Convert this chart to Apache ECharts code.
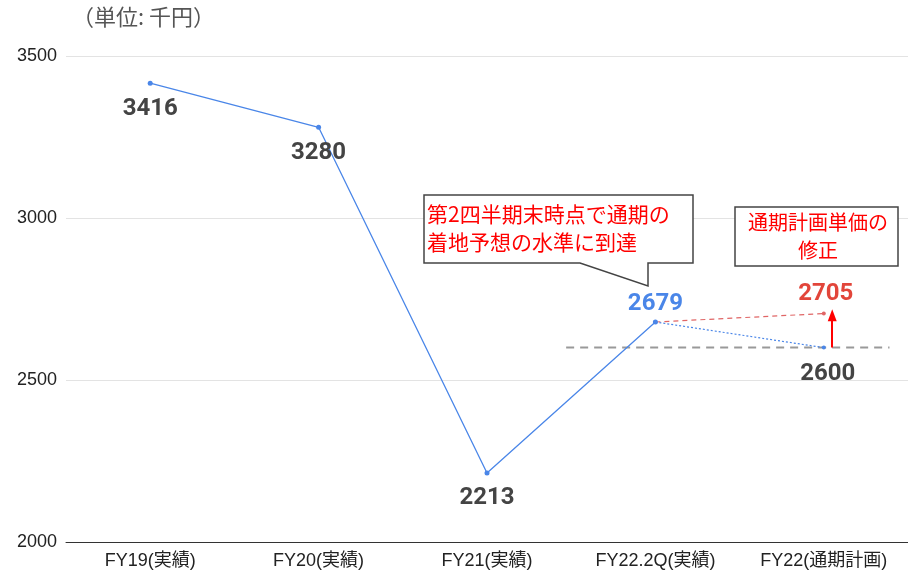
<!DOCTYPE html>
<html>
<head>
<meta charset="utf-8">
<script src="https://cdn.jsdelivr.net/npm/echarts@6/dist/echarts.min.js"></script>
<style>
  html, body { margin: 0; padding: 0; background: #fff; }
  #chart { width: 908px; height: 572px; }
</style>
</head>
<body>
<div id="chart"></div>
<script>
// Unit price per fiscal period (thousand yen)
const categories = ['FY19(実績)', 'FY20(実績)', 'FY21(実績)', 'FY22.2Q(実績)', 'FY22(通期計画)'];
const actualValues = [3416, 3280, 2213, 2679, null];
const initialPlanValues = [null, null, null, 2679, 2600];
const revisedPlanValues = [null, null, null, 2679, 2705];
const planLevel = 2600;
const planLevelSpan = [2.47, 4.39];          // category-index extent of the plan reference line
const revisionArrow = { at: 4.05, from: 2600, to: 2700 };
const yTicks = { min: 2000, max: 3500, step: 500 };

const unitText = '（単位: 千円）';
const callout1 = ['第2四半期末時点で通期の', '着地予想の水準に到達'];
const callout2 = ['通期計画単価の', '修正'];

const NUM_FONT = 'Roboto, "Noto Sans CJK JP", sans-serif';
const AXIS_FONT = '"Liberation Sans", Arial, "Noto Sans CJK JP", sans-serif';
const JP_FONT = '"Noto Sans CJK JP", "Noto Sans", sans-serif';
const BLUE = '#4a86e8';
const RED_SOFT = '#e06666';
const DARK = '#444444';

function valueLabel(pos, color, dist) {
  return { show: true, position: pos, distance: dist, color: color,
           fontFamily: NUM_FONT, fontWeight: 'bold', fontSize: 24 };
}

const actualData = actualValues.map((v, i) => {
  if (v == null) return null;
  if (i === 3) return { value: v, label: valueLabel('top', BLUE, 4) };
  return { value: v, label: valueLabel('bottom', DARK, 11) };
});
const initialData = initialPlanValues.map((v, i) =>
  v == null ? null : (i === 4 ? { value: v, label: { ...valueLabel('bottom', DARK, 12), offset: [4, 0] } } : { value: v }));
const revisedData = revisedPlanValues.map((v, i) =>
  v == null ? null : (i === 4 ? { value: v, label: { ...valueLabel('top', '#e2453a', 6), offset: [2, 0] } } : { value: v }));

const chart = echarts.init(document.getElementById('chart'));

const option = {
  animation: false,
  backgroundColor: '#ffffff',
  grid: { left: 66, right: 0, top: 56, bottom: 30, containLabel: false },
  xAxis: [
    {
      type: 'category',
      data: categories,
      boundaryGap: true,
      axisLine: { lineStyle: { color: '#333', width: 1 } },
      axisTick: { alignWithLabel: true, length: 4, lineStyle: { color: '#999' } },
      axisLabel: { color: '#222', fontSize: 18, fontFamily: AXIS_FONT, margin: 10 }
    },
    { type: 'value', min: -0.5, max: 4.5, show: false }
  ],
  yAxis: {
    type: 'value',
    min: yTicks.min,
    max: yTicks.max,
    interval: yTicks.step,
    axisLine: { show: false },
    axisTick: { show: false },
    splitLine: { lineStyle: { color: '#e3e3e3', width: 1 } },
    axisLabel: { color: '#222', fontSize: 18, fontFamily: AXIS_FONT, margin: 9,
                 formatter: v => String(v) }
  },
  series: [
    {
      name: 'plan-level',
      type: 'line',
      xAxisIndex: 1,
      data: [[planLevelSpan[0], planLevel], [planLevelSpan[1], planLevel]],
      symbol: 'none',
      lineStyle: { color: '#999', width: 2, type: [8, 6] },
      silent: true,
      z: 1
    },
    {
      name: 'initial-plan',
      type: 'line',
      data: initialData,
      symbol: 'circle',
      symbolSize: 4,
      showSymbol: true,
      itemStyle: { color: BLUE },
      lineStyle: { color: BLUE, width: 1.2, type: [2, 2] },
      z: 3
    },
    {
      name: 'revised-plan',
      type: 'line',
      data: revisedData,
      symbol: 'circle',
      symbolSize: 4,
      itemStyle: { color: RED_SOFT },
      lineStyle: { color: RED_SOFT, width: 1.2, type: [5, 4] },
      z: 3
    },
    {
      name: 'actual',
      type: 'line',
      data: actualData,
      symbol: 'circle',
      symbolSize: 5,
      itemStyle: { color: BLUE },
      lineStyle: { color: BLUE, width: 1.3 },
      z: 4
    },
    {
      name: 'revision-arrow',
      type: 'line',
      xAxisIndex: 1,
      data: [],
      markLine: {
        silent: true,
        symbol: ['none', 'triangle'],
        symbolSize: [9, 12],
        label: { show: false },
        lineStyle: { color: '#ff0000', width: 2, type: 'solid' },
        data: [[
          { coord: [revisionArrow.at, revisionArrow.from] },
          { coord: [revisionArrow.at, revisionArrow.to] }
        ]]
      },
      z: 5
    }
  ],
  graphic: [
    {
      type: 'text', left: 72, top: 6,
      style: { text: unitText, fill: '#555', fontSize: 22, fontFamily: JP_FONT }
    },
    {
      type: 'polygon',
      shape: { points: [[424, 195], [693, 195], [693, 263], [648, 263], [648, 286], [580, 263], [424, 263]] },
      style: { fill: '#ffffff', stroke: '#444', lineWidth: 1.5 },
      z: 10
    },
    {
      type: 'text', left: 427, top: 200, z: 11,
      style: { text: callout1.join('\n'), fill: '#ff0000', fontSize: 21, lineHeight: 28, fontFamily: JP_FONT }
    },
    {
      type: 'rect',
      shape: { x: 735, y: 207, width: 163, height: 59 },
      style: { fill: '#ffffff', stroke: '#444', lineWidth: 1.5 },
      z: 10
    },
    {
      type: 'text', x: 818, y: 208, z: 11,
      style: { text: callout2.join('\n'), fill: '#ff0000', fontSize: 20, lineHeight: 28,
               fontFamily: JP_FONT, align: 'center' }
    }
  ]
};

chart.setOption(option);
</script>
</body>
</html>
